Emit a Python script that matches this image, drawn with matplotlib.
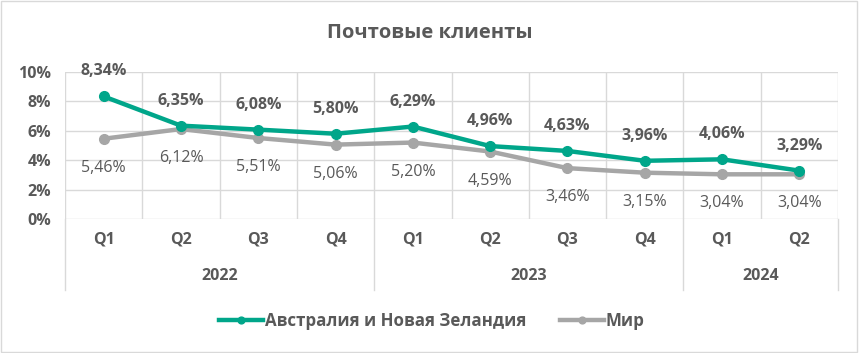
import matplotlib.pyplot as plt
from matplotlib.patches import Rectangle

plt.rcParams['font.family'] = ['Open Sans', 'DejaVu Sans']

quarters = ['Q1', 'Q2', 'Q3', 'Q4', 'Q1', 'Q2', 'Q3', 'Q4', 'Q1', 'Q2']
years = ['2022', '2023', '2024']
year_spans = [(0, 4), (4, 8), (8, 10)]
anz = [8.34, 6.35, 6.08, 5.80, 6.29, 4.96, 4.63, 3.96, 4.06, 3.29]
world = [5.46, 6.12, 5.51, 5.06, 5.20, 4.59, 3.46, 3.15, 3.04, 3.04]

teal = '#00A68A'
gray = '#A6A6A6'
txt = '#595959'
grid = '#D9D9D9'

fig = plt.figure(figsize=(8.59, 3.53), dpi=100)
ax = fig.add_axes([65 / 859, 1 - 219 / 353, 773 / 859, 147 / 353])
fig.patches.append(Rectangle((0.001, 0.002), 0.997, 0.995, transform=fig.transFigure,
                             fill=False, edgecolor=grid, linewidth=1))

x = list(range(len(quarters)))
ax.plot(x, world, color=gray, lw=3.2, marker='o', ms=7, label='Мир', zorder=3)
ax.plot(x, anz, color=teal, lw=3.2, marker='o', ms=7, label='Австралия и Новая Зеландия', zorder=4)

for i in x:
    ax.annotate(f'{anz[i]:.2f}%'.replace('.', ','), (i, anz[i]), xytext=(0, 18),
                textcoords='offset points', ha='center', va='center',
                fontsize=11.5, fontweight='bold', color=txt)
    ax.annotate(f'{world[i]:.2f}%'.replace('.', ','), (i, world[i]), xytext=(0, -21),
                textcoords='offset points', ha='center', va='center',
                fontsize=11.5, color=txt)

ax.set_xlim(-0.5, len(quarters) - 0.5)
ax.set_ylim(0, 10)
ax.set_yticks([0, 2, 4, 6, 8, 10])
ax.set_yticklabels([f'{v}%' for v in [0, 2, 4, 6, 8, 10]], fontsize=11.5,
                   fontweight='bold', color=txt)
ax.set_xticks([])
ax.tick_params(axis='y', length=0, pad=10)
for yv in [2, 4, 6, 8, 10]:
    ax.axhline(yv, color=grid, lw=1, zorder=0)
for xv in range(len(quarters) + 1):
    ax.axvline(xv - 0.5, color=grid, lw=1, zorder=0)
for s in ax.spines.values():
    s.set_visible(False)
ax.axhline(0, color=grid, lw=1, zorder=1)

trans = ax.get_xaxis_transform()
for i, q in enumerate(quarters):
    ax.text(i, -0.14, q, transform=trans, ha='center', va='center',
            fontsize=11.5, fontweight='bold', color=txt)
for (a, b), y in zip(year_spans, years):
    ax.text((a + b - 1) / 2, -0.39, y, transform=trans, ha='center', va='center',
            fontsize=11.5, fontweight='bold', color=txt)
for xv in [0, 4, 8, 10]:
    ax.plot([xv - 0.5, xv - 0.5], [0, -0.48], transform=trans, color=grid,
            lw=1, clip_on=False)

fig.text(430 / 859, 1 - 33 / 353, 'Почтовые клиенты', ha='center', va='center',
         fontsize=14.5, fontweight='bold', color=txt)

h, l = ax.get_legend_handles_labels()
fig.legend(h[::-1], l[::-1], loc='center', bbox_to_anchor=(432 / 859, 1 - 321 / 353),
           ncol=2, frameon=False, labelcolor=txt, handlelength=2.6, markerscale=0.7,
           handletextpad=0.1, columnspacing=2.0, prop={'weight': 'bold', 'size': 12.2})

fig.savefig('out.png', dpi=100)
